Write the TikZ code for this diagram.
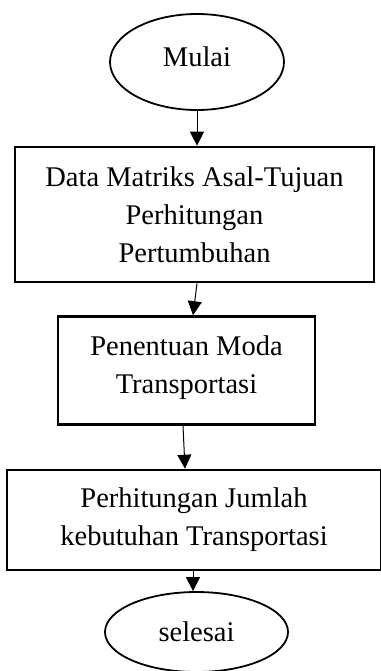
\documentclass[tikz,border=0pt]{standalone}
\usepackage{fontspec}
\setmainfont{Liberation Serif}
\usetikzlibrary{arrows.meta,shapes.geometric}
\begin{document}
\begin{tikzpicture}[x=1pt,y=-1pt,
  every node/.style={font=\fontsize{28.5}{38}\selectfont, align=center, inner sep=0pt},
  procbox/.style={draw, line width=2.6pt, rectangle},
  term/.style={draw, line width=1.8pt, ellipse},
  conn/.style={line width=1pt, -{Triangle[width=14pt,length=14pt]}}]
\useasboundingbox (0,0) rectangle (380,671);
\node[term, minimum width=174pt, minimum height=96pt, text depth=11pt] (start) at (197,62) {Mulai};
\node[procbox, minimum width=359pt, minimum height=135pt] (b1) at (194.5,214.5) {Data Matriks Asal-Tujuan\\Perhitungan\\Pertumbuhan};
\node[procbox, minimum width=257pt, minimum height=108pt, text depth=11pt] (b2) at (186.5,370.5) {Penentuan Moda\\Transportasi};
\node[procbox, minimum width=374pt, minimum height=100pt] (b3) at (194,520) {Perhitungan Jumlah\\kebutuhan Transportasi};
\node[term, minimum width=183pt, minimum height=80pt] (stop) at (196.5,632) {selesai};
\draw[conn] (start.south) -- (start.south |- b1.north);
\draw[conn] ([xshift=2.5pt]b1.south) -- ([xshift=6.5pt]b2.north);
\draw[conn] ([xshift=-3.5pt]b2.south) -- ([xshift=-9pt]b3.north);
\draw[conn] ([xshift=-1pt]b3.south) -- ([xshift=-1pt]b3.south |- stop.north);
\end{tikzpicture}
\end{document}
